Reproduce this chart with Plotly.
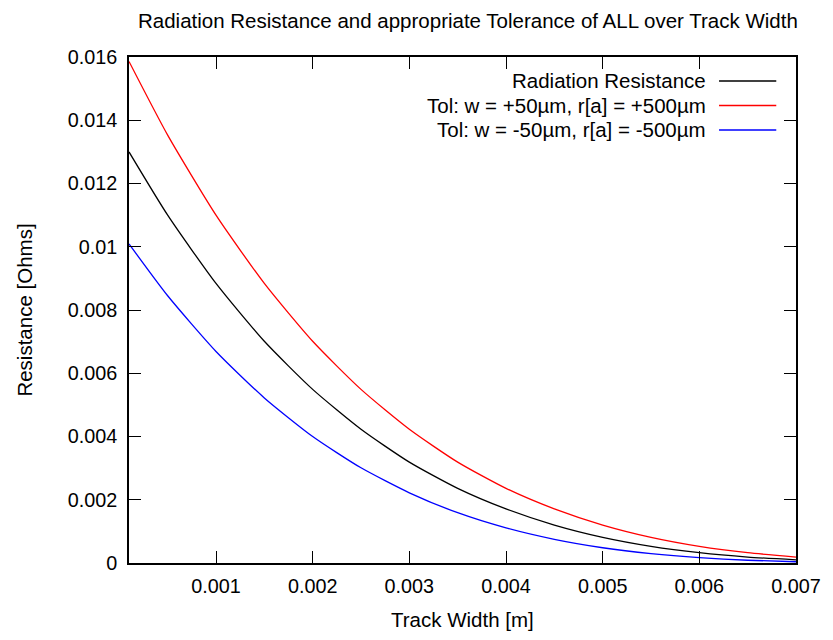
import plotly.graph_objects as go

# Track width [m]
track_width = [0.0001, 0.0005, 0.001, 0.0015, 0.002, 0.0025, 0.003, 0.0035,
               0.004, 0.0045, 0.005, 0.0055, 0.006, 0.0065, 0.007]

# Radiation resistance [Ohms]
rad_res = [0.01300, 0.01100, 0.00884, 0.00701, 0.00549, 0.00423, 0.00319, 0.00236,
           0.00171, 0.00120, 0.000812, 0.000528, 0.000326, 0.000188, 0.0000997]
tol_plus = [0.01586, 0.01353, 0.01100, 0.00884, 0.00701, 0.00549, 0.00423, 0.00319,
            0.00236, 0.00171, 0.00120, 0.000812, 0.000528, 0.000326, 0.000188]
tol_minus = [0.01009, 0.00845, 0.00669, 0.00522, 0.00400, 0.00301, 0.00222, 0.00159,
             0.00111, 0.000748, 0.000482, 0.000294, 0.000167, 0.0000866, 0.0000394]

series_names = ["Radiation Resistance",
                "Tol: w = +50µm, r[a] = +500µm",
                "Tol: w = -50µm, r[a] = -500µm"]
series_colors = ["#000000", "#ff0000", "#0000ff"]

x_tickvals = [0.001, 0.002, 0.003, 0.004, 0.005, 0.006, 0.007]
x_ticktext = ["0.001", "0.002", "0.003", "0.004", "0.005", "0.006", "0.007"]
y_tickvals = [0, 0.002, 0.004, 0.006, 0.008, 0.01, 0.012, 0.014, 0.016]
y_ticktext = ["0", "0.002", "0.004", "0.006", "0.008", "0.01", "0.012", "0.014", "0.016"]

FONT = "Liberation Sans, Arial, sans-serif"
FS = 20.5
FT = 19.8

fig = go.Figure()
for ys, name, col in zip([rad_res, tol_plus, tol_minus], series_names, series_colors):
    fig.add_trace(go.Scatter(x=track_width, y=ys, mode="lines", name=name,
                             line=dict(color=col, width=1.3, shape="spline", smoothing=0.6),
                             showlegend=False))

# gnuplot-style key: text right-aligned, sample line to the right
key_top = 1 - (81 - 57) / 506
row_h = 24.5 / 506
for i, (name, col) in enumerate(zip(series_names, series_colors)):
    yy = key_top - i * row_h
    fig.add_annotation(xref="paper", yref="paper", x=(716 - 129) / 676, y=yy,
                       text=name, showarrow=False, xanchor="right", yanchor="middle",
                       font=dict(family=FONT, size=FS, color="black"))
    fig.add_shape(type="line", xref="paper", yref="paper",
                  x0=(727 - 129) / 676, x1=(785 - 129) / 676, y0=yy, y1=yy,
                  line=dict(color=col, width=1.3))

# x-axis title (placed like gnuplot's xlabel)
fig.add_annotation(xref="paper", yref="paper", x=0.5, y=-(619 - 563) / 506,
                   text="Track Width [m]", showarrow=False, xanchor="center", yanchor="middle",
                   font=dict(family=FONT, size=FS, color="black"))

axis_common = dict(showline=True, linecolor="black", linewidth=1.5, mirror="allticks",
                   ticks="inside", ticklen=12, tickwidth=1, tickcolor="black",
                   showgrid=False, zeroline=False,
                   tickfont=dict(family=FONT, size=FT, color="black"))

fig.update_layout(
    width=833, height=640,
    margin=dict(l=129, r=28, t=57, b=77),
    paper_bgcolor="white", plot_bgcolor="white",
    title=dict(text="Radiation Resistance and appropriate Tolerance of ALL over Track Width",
               x=0.5617, xanchor="center", y=1 - 21 / 640, yanchor="middle",
               font=dict(family=FONT, size=FS, color="black")),
    xaxis=dict(range=[0.0001, 0.007], tickvals=x_tickvals, ticktext=x_ticktext,
               ticklabelstandoff=4, **axis_common),
    yaxis=dict(range=[0, 0.016], tickvals=y_tickvals, ticktext=y_ticktext,
               title=dict(text="Resistance [Ohms]", font=dict(family=FONT, size=FS, color="black"),
                          standoff=30),
               ticklabelstandoff=6, **axis_common),
)

fig.write_html("out.html")
